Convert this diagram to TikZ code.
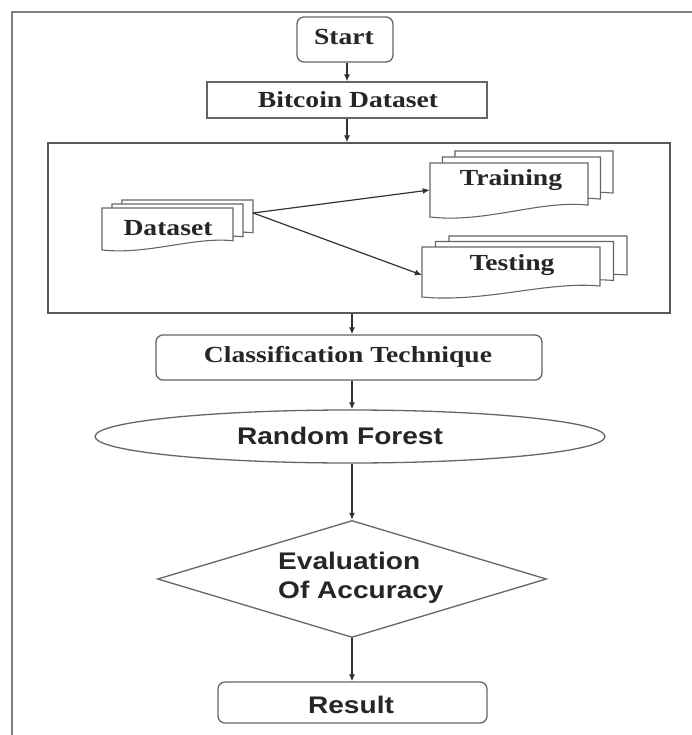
\documentclass[tikz,border=0pt]{standalone}
\usepackage{fontspec}
\usepackage{graphicx}
\usetikzlibrary{shapes.geometric,arrows.meta,calc}
\setmainfont{Liberation Serif}
\newfontfamily\sansfam{Liberation Sans}
\newcommand{\sxs}[1]{\scalebox{1.2}[1]{#1}}
\newcommand{\sxa}[1]{\scalebox{1.17}[1]{#1}}
\newcommand{\docpath}[4]{%
  \path[docsty] ({#1},{#2}) -- ({#1+#3},{#2}) -- ({#1+#3},{#2+0.78*#4})
    .. controls ({#1+0.7*#3},{#2+0.68*#4}) and ({#1+0.35*#3},{#2+1.12*#4}) .. ({#1},{#2+#4}) -- cycle;}
\newcommand{\docstack}[6]{%
  \docpath{#1+2*#5}{#2+2*#6}{#3}{#4}
  \docpath{#1+#5}{#2+#6}{#3}{#4}
  \docpath{#1}{#2}{#3}{#4}}
\begin{document}
\begin{tikzpicture}[x=1pt,y=-1pt,
  box/.style={draw=black!60,line width=1.3pt,fill=white,inner sep=0pt},
  rbox/.style={box,rounded corners=7pt},
  docsty/.style={draw=black!60,line width=1.1pt,fill=white},
  area/.style={inner sep=0pt,draw=none},
  stxt/.style={font=\fontsize{23}{27}\selectfont\bfseries,text=black!85,inner sep=0pt},
  sftxt/.style={font=\sansfam\fontsize{24}{29}\selectfont\bfseries,text=black!85,inner sep=0pt},
  arr/.style={draw=black!80,line width=1.2pt,-{Latex[length=7pt,width=6pt]}}]
\useasboundingbox (0,0) rectangle (691,735);
\fill[white] (0,0) rectangle (691,735);
% outer frame
\draw[black!50,line width=1.8pt] (12,740) -- (12,12) -- (700,12);

\node[rbox,minimum width=96pt,minimum height=45pt] (start) at (345,39.5) {};
\node[stxt] (startt) at (344,37) {\sxs{Start}};
\node[box,minimum width=280pt,minimum height=36pt] (btc) at (347,100) {};
\node[stxt] (btct) at (348,100) {\sxs{Bitcoin Dataset}};
\node[box,draw=black!65,minimum width=622pt,minimum height=170pt] (cont) at (359,228) {};

% document stacks
\docstack{102}{208}{131}{42}{10}{-4}
\docstack{430}{163}{158}{54}{12.5}{-6}
\docstack{422}{247}{178}{50}{13.5}{-5.5}
\node[area,minimum width=151pt,minimum height=26pt] (ds) at (177.5,213) {};
\node[area,minimum width=158pt,minimum height=54pt] (tr) at (509,190) {};
\node[area,minimum width=178pt,minimum height=56pt] (te) at (511,275) {};
\node[stxt] (dst) at (168,228) {\sxs{Dataset}};
\node[stxt] (trt) at (511,180) {\sxs{Training}};
\node[stxt] (tet) at (512,265) {\sxs{Testing}};

\draw[arr] (ds.east) -- (tr.west);
\draw[arr] (ds.east) -- (te.west);

\node[rbox,minimum width=386pt,minimum height=45pt] (cls) at (349,357.5) {};
\node[stxt] (clst) at (348,357) {\sxs{Classification Technique}};
\node[ellipse,draw=black!60,line width=1.3pt,minimum width=510pt,minimum height=53pt,inner sep=0pt] (rf) at (350,436.5) {};
\node[sftxt] (rft) at (340,436) {\sxa{Random Forest}};
\node[diamond,aspect=3.32,draw=black!60,line width=1.3pt,minimum width=389pt,minimum height=117pt,inner sep=0pt] (ev) at (352,579) {};
\node[sftxt,align=left,anchor=west] (evt) at (278,578) {\sxa{Evaluation}\\\sxa{Of Accuracy}};
\node[rbox,minimum width=269pt,minimum height=41pt] (res) at (352.5,702.5) {};
\node[sftxt] (rest) at (351,705) {\sxa{Result}};

\draw[arr] (start.south -| btc.north) -- (btc.north);
\draw[arr] (btc.south) -- (btc.south |- cont.north);
\draw[arr] (cont.south -| ev.north) -- (ev.north |- cls.north);
\draw[arr] (ev.north |- cls.south) -- (ev.north |- rf.north);
\draw[arr] (ev.north |- rf.south) -- (ev.north);
\draw[arr] (ev.south) -- (ev.south |- res.north);
\end{tikzpicture}
\end{document}
